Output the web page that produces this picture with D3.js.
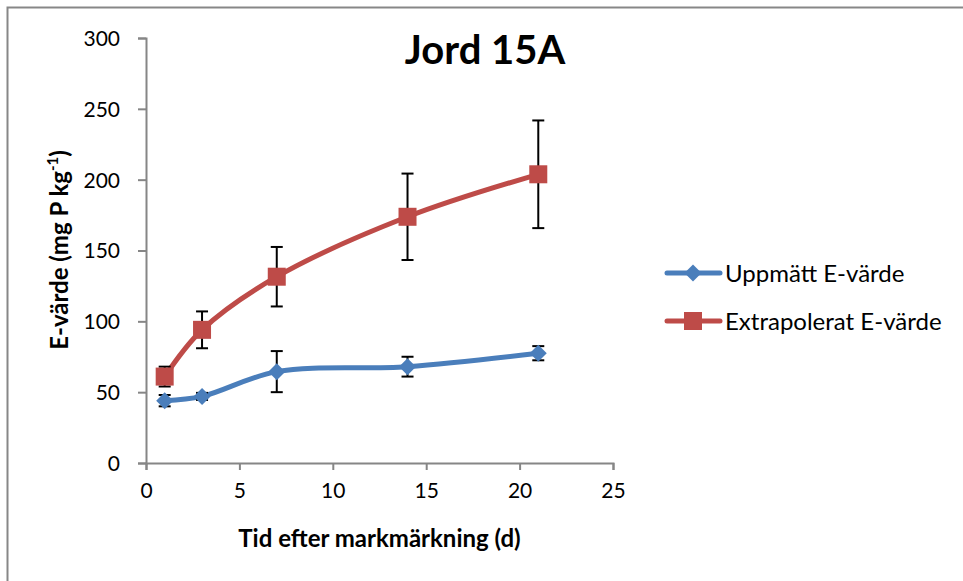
<!DOCTYPE html>
<html><head><meta charset="utf-8">
<script src="https://cdn.jsdelivr.net/npm/d3@7"></script>
<style>body{margin:0;background:#fff}svg{display:block}text{font-family:Lato,"Open Sans",sans-serif}</style>
</head><body>
<svg id="c" width="963" height="581"></svg>
<script>
const days = [1, 3, 7, 14, 21];
const measured = [44, 47, 64.5, 68, 77.5];
const measuredErr = [4, 2.5, 14.5, 7, 5];
const extrapolated = [61, 94, 131.5, 173.8, 203.8];
const extrapolatedErr = [7, 13, 21, 30.5, 38];
const xTicks = [0, 5, 10, 15, 20, 25];
const yTicks = [0, 50, 100, 150, 200, 250, 300];
const seriesNames = ["Uppmätt E-värde", "Extrapolerat E-värde"];
const title = "Jord 15A";
const xTitle = "Tid efter markmärkning (d)";

const svg = d3.select("#c");
svg.append("rect").attr("x", 7.5).attr("y", 7.5).attr("width", 1000).attr("height", 1000)
  .attr("fill", "none").attr("stroke", "#878787").attr("stroke-width", 2);

const x = d3.scaleLinear().domain([0, 25]).range([146, 613]);
const y = d3.scaleLinear().domain([0, 300]).range([463, 38]);
const axisColor = "#868686";

const gx = svg.append("g").attr("transform", `translate(0,${y(0)})`)
  .call(d3.axisBottom(x).tickValues(xTicks).tickSize(7).tickPadding(10));
const gy = svg.append("g").attr("transform", `translate(${x(0)},0)`)
  .call(d3.axisLeft(y).tickValues(yTicks).tickSize(8).tickPadding(18));
[gx, gy].forEach(g => {
  g.select(".domain").attr("stroke", axisColor).attr("stroke-width", 2);
  g.selectAll(".tick line").attr("stroke", axisColor).attr("stroke-width", 2);
  g.selectAll(".tick text").attr("fill", "#000").style("font-size", "21px").style("font-family", "Lato, 'Open Sans', sans-serif");
});
gx.selectAll(".tick text").attr("dy", "0.85em");
gy.selectAll(".tick text").attr("dy", "0.35em");

svg.append("text").attr("x", 485).attr("y", 64).attr("text-anchor", "middle")
  .style("font-size", "40px").style("font-weight", "bold").text(title);

svg.append("text").attr("x", x(12.5)).attr("y", 547).attr("text-anchor", "middle")
  .style("font-size", "24px").style("font-weight", "bold").text(xTitle);

const yt = svg.append("text").attr("transform", "translate(68,250) rotate(-90)")
  .attr("text-anchor", "middle").style("font-size", "24px").style("font-weight", "bold");
yt.append("tspan").text("E-värde (mg P kg");
yt.append("tspan").attr("dy", -10).style("font-size", "15px").text("-1");
yt.append("tspan").attr("dy", 10).text(")");

const colors = ["#4a7ebb", "#be4b48"];
const data = [
  {vals: measured, err: measuredErr, color: colors[0], shape: "diamond"},
  {vals: extrapolated, err: extrapolatedErr, color: colors[1], shape: "square"}
];
const line = d3.line().x((d, i) => x(days[i])).y(d => y(d)).curve(d3.curveCatmullRom.alpha(0.5));

function marker(g, shape, color) {
  if (shape === "diamond") {
    g.append("path").attr("d", "M0,-8.5L8.5,0L0,8.5L-8.5,0Z").attr("fill", color);
  } else {
    g.append("rect").attr("x", -9).attr("y", -9).attr("width", 18).attr("height", 18).attr("fill", color);
  }
}

data.forEach(s => {
  svg.append("path").attr("d", line(s.vals)).attr("fill", "none")
    .attr("stroke", s.color).attr("stroke-width", 5).attr("stroke-linecap", "round");
});
data.forEach(s => {
  s.vals.forEach((v, i) => {
    const cx = x(days[i]), t = y(v + s.err[i]), b = y(v - s.err[i]);
    const g = svg.append("g").attr("stroke", "#000").attr("stroke-width", 2);
    g.append("line").attr("x1", cx).attr("x2", cx).attr("y1", t).attr("y2", b);
    g.append("line").attr("x1", cx - 6).attr("x2", cx + 6).attr("y1", t).attr("y2", t);
    g.append("line").attr("x1", cx - 6).attr("x2", cx + 6).attr("y1", b).attr("y2", b);
  });
});
data.forEach(s => {
  s.vals.forEach((v, i) => {
    const g = svg.append("g").attr("transform", `translate(${x(days[i])},${y(v)})`);
    marker(g, s.shape, s.color);
  });
});

// legend
seriesNames.forEach((name, i) => {
  const ly = 273 + i * 48;
  const g = svg.append("g");
  g.append("line").attr("x1", 667).attr("x2", 720).attr("y1", ly).attr("y2", ly)
    .attr("stroke", data[i].color).attr("stroke-width", 5).attr("stroke-linecap", "round");
  const m = g.append("g").attr("transform", `translate(693,${ly})`);
  marker(m, data[i].shape, data[i].color);
  g.append("text").attr("x", 725).attr("y", ly).attr("dy", "0.36em")
    .style("font-size", "24px").text(name);
});
</script>
</body></html>
